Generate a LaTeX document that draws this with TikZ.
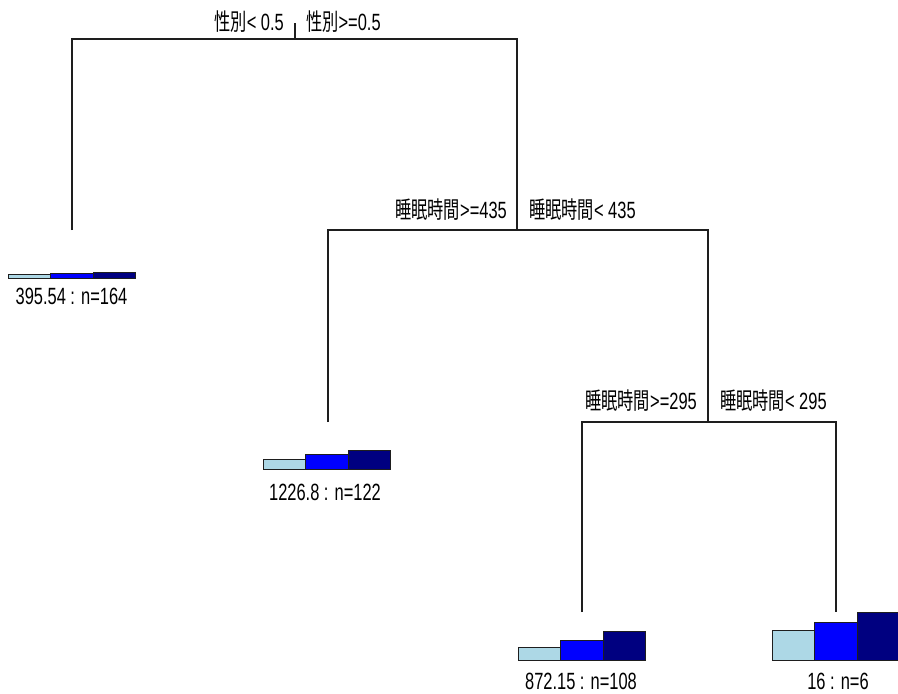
\documentclass[tikz,border=0pt]{standalone}
\usepackage{fontspec}
\setmainfont{Liberation Sans}[FakeStretch=0.70]
\newfontfamily\cjk{Noto Sans CJK JP}[FakeStretch=0.69]
\definecolor{lb}{RGB}{173,216,230}
\definecolor{bl}{RGB}{0,0,255}
\definecolor{nv}{RGB}{0,0,128}
\definecolor{ln}{RGB}{30,30,30}
\newcommand\leafbars[5]{%
  \draw[bar, fill=lb] (#1-64,#2) rectangle (#1-21.5,#2-#3);
  \draw[bar, fill=bl] (#1-21.5,#2) rectangle (#1+21,#2-#4);
  \draw[bar, fill=nv] (#1+21,#2) rectangle (#1+63.5,#2-#5);
}
\begin{document}
\begin{tikzpicture}[x=1pt,y=-1pt,
  edge/.style={draw=ln, line width=1.2pt},
  bar/.style={draw=ln, line width=1pt},
  lbl/.style={inner sep=0pt, text=black, font=\fontsize{23.5}{25}\selectfont}]
\useasboundingbox (0,0) rectangle (898,694);
% tree structure
\coordinate (t0) at (295,23);
\coordinate (n0) at (295,39);
\coordinate (L1) at (72,230);
\coordinate (n1) at (517,230);
\coordinate (L2) at (328,422);
\coordinate (n2) at (708,422);
\coordinate (L3) at (582,612);
\coordinate (L4) at (836,612);
\draw[edge] (t0) -- (n0);
\draw[edge] (L1) -- (L1 |- n0) -- (n1 |- n0) -- (n1);
\draw[edge] (L2) -- (L2 |- n1) -- (n2 |- n1) -- (n2);
\draw[edge] (L3) -- (L3 |- n2) -- (L4 |- n2) -- (L4);
% split labels
\node[lbl, anchor=base east] (s0l) at (284,30) {{\cjk 性別}< 0.5};
\node[lbl, anchor=base west] (s0r) at (306,30) {{\cjk 性別}>=0.5};
\node[lbl, anchor=base east] (s1l) at (507,218) {{\cjk 睡眠時間}>=435};
\node[lbl, anchor=base west] (s1r) at (529,218) {{\cjk 睡眠時間}< 435};
\node[lbl, anchor=base east] (s2l) at (697,409) {{\cjk 睡眠時間}>=295};
\node[lbl, anchor=base west] (s2r) at (720,409) {{\cjk 睡眠時間}< 295};
% leaves
\leafbars{72}{278}{4}{4.5}{6}
\leafbars{327}{469.3}{10}{15}{19.3}
\leafbars{582}{660.7}{13.4}{20}{29}
\leafbars{836}{660.7}{30.7}{38.7}{48}
\node[lbl, anchor=base] (f1) at (71.5,304.5) {395.54 : n=164};
\node[lbl, anchor=base] (f2) at (325,500.5) {1226.8 : n=122};
\node[lbl, anchor=base] (f3) at (581,689) {872.15 : n=108};
\node[lbl, anchor=base] (f4) at (838,689) {16 : n=6};
\end{tikzpicture}
\end{document}
